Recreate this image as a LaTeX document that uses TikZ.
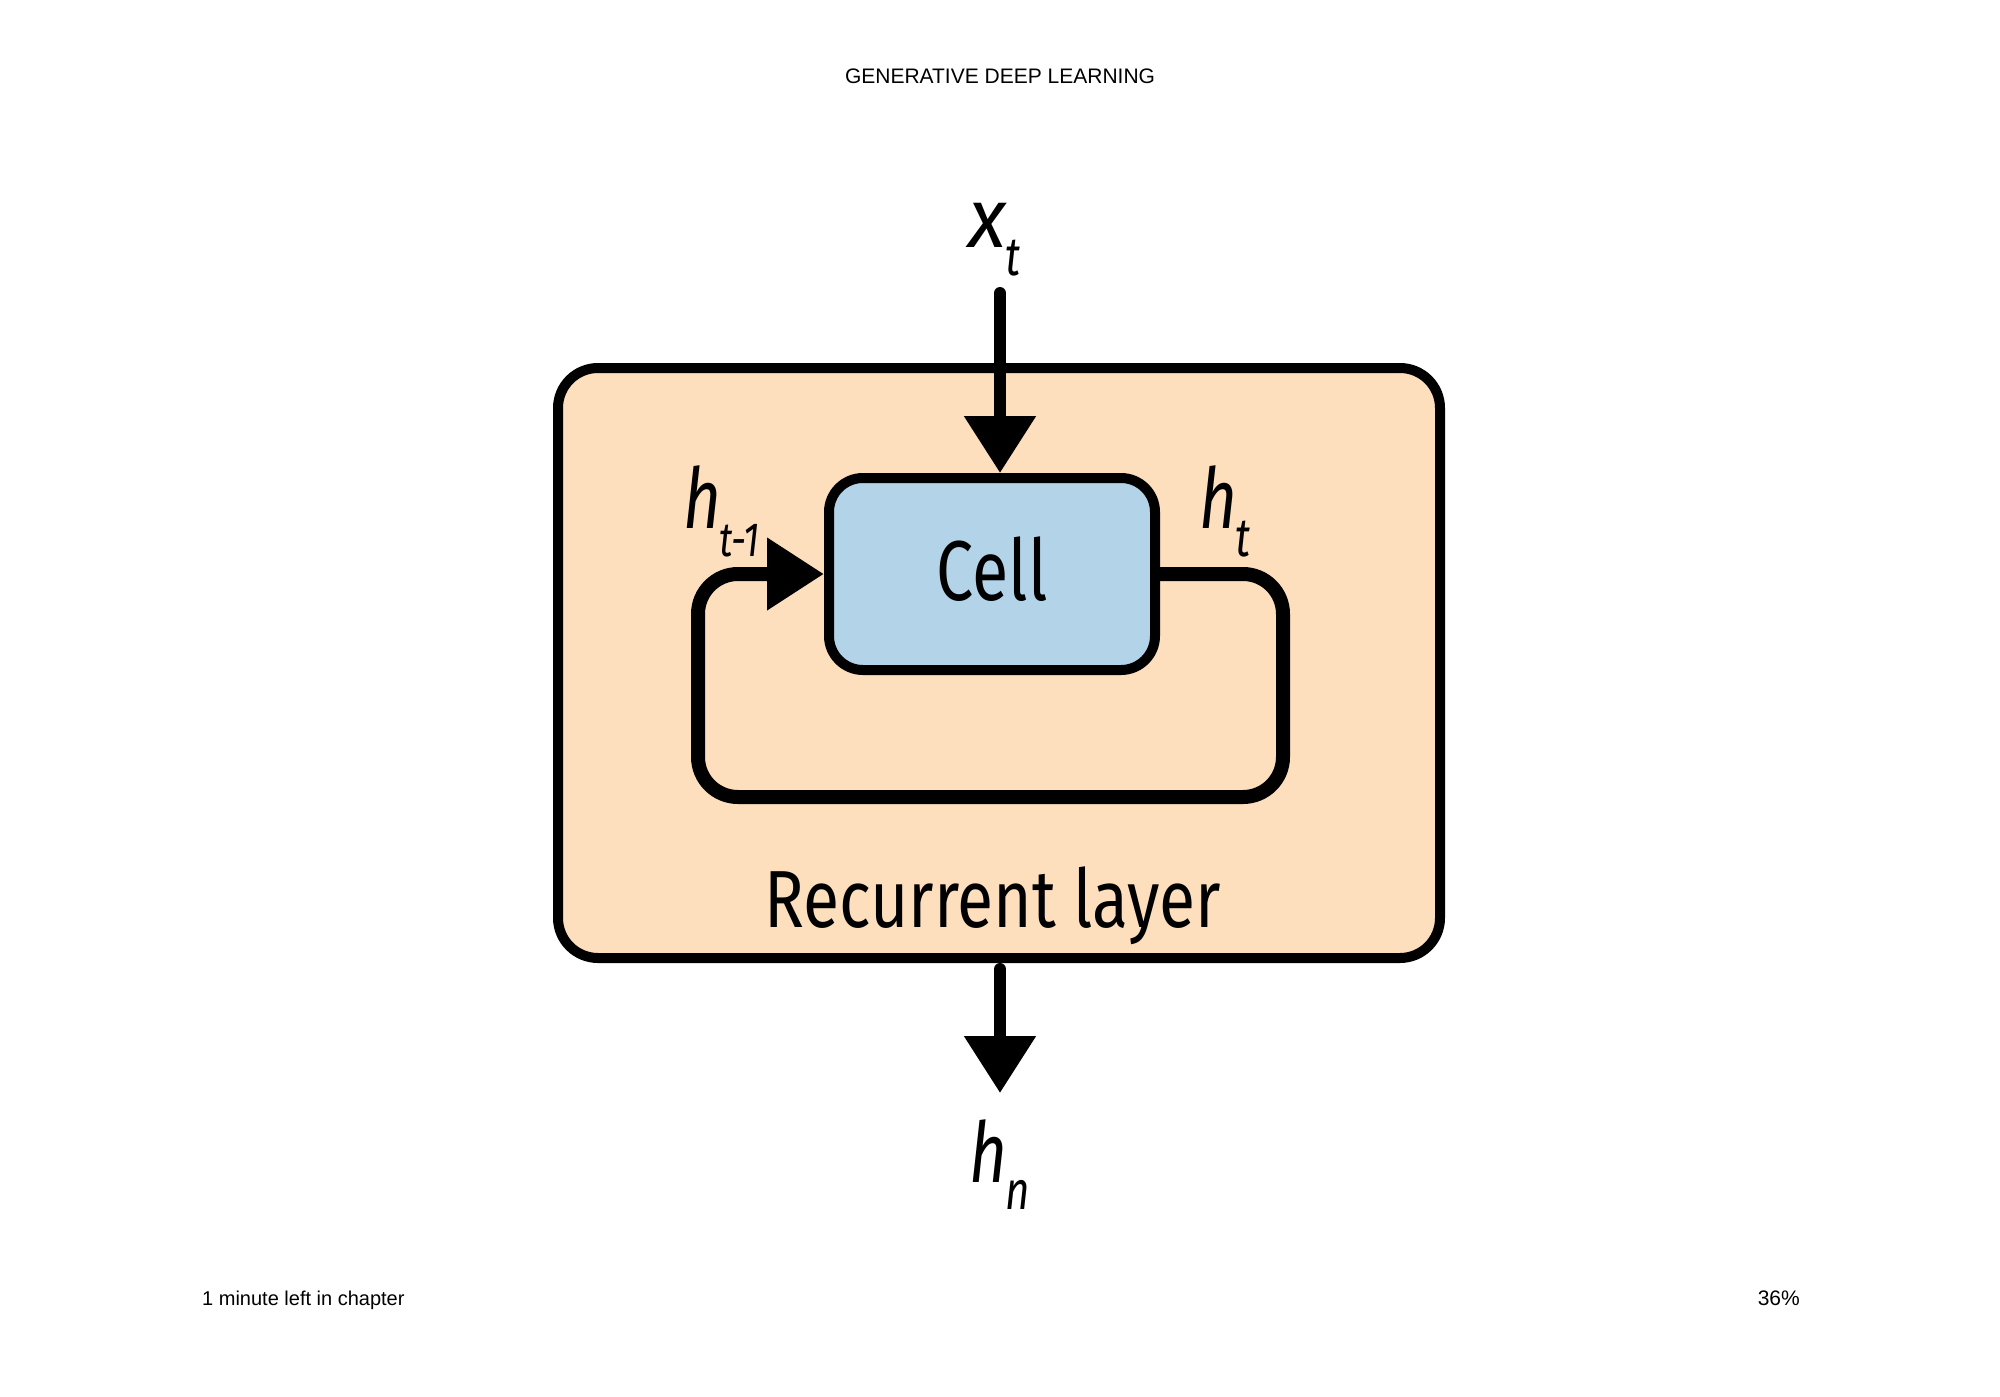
\documentclass[tikz,border=0pt]{standalone}
\usepackage{fontspec}
\usetikzlibrary{arrows.meta}
\newfontfamily\uifont{Liberation Sans}
\newfontfamily\diag[FakeStretch=0.78]{Fira Sans}
\newfontfamily\diagw[FakeStretch=0.815]{Fira Sans}
\definecolor{peach}{HTML}{FDDEBD}
\definecolor{cellblue}{HTML}{B2D3E8}
\tikzset{
  outerbox/.style={draw=black, line width=10pt, fill=peach, rounded corners=40pt,
    minimum width=882pt, minimum height=590pt, inner sep=0pt},
  cellbox/.style={draw=black, line width=10pt, fill=cellblue, rounded corners=34pt,
    minimum width=326pt, minimum height=192pt, inner sep=0pt},
  arr/.style={line width=12pt, line cap=round, -{Triangle[length=57pt, width=69pt]}},
  looparr/.style={line width=14pt, rounded corners=40pt, -{Triangle[length=57pt, width=69pt]}},
  lbl/.style={inner sep=0pt, font=\diag\itshape\fontsize{84}{84}\selectfont},
  ui/.style={inner sep=0pt, font=\uifont\fontsize{21}{21}\selectfont},
}
\newcommand{\subs}[2]{{\fontsize{#1}{#1}\selectfont #2}}
\begin{document}
\begin{tikzpicture}[x=1pt, y=-1pt]
\useasboundingbox (0,0) rectangle (2000,1397);
\fill[white] (0,0) rectangle (2000,1397);
% page texts
\node[ui, anchor=base] (head) at (1000,83) {GENERATIVE DEEP LEARNING};
\node[ui, anchor=base west, font=\uifont\fontsize{20}{20}\selectfont] (left) at (202,1305) {1 minute left in chapter};
\node[ui, anchor=base east] (pct) at (1800,1305) {36\%};
% boxes
\node[outerbox] (outer) at (999,663) {};
\node[cellbox] (cell) at (992,574) {};
\node[inner sep=0pt, anchor=base, font=\diag\fontsize{85}{85}\selectfont] (celltext) at (992,600) {Cell};
\node[inner sep=0pt, anchor=base, font=\diagw\fontsize{81}{81}\selectfont] (rl) at (993,927) {Recurrent layer};
% labels
\node[lbl, anchor=base west] (xt) at (968,247) {\scalebox{1.2}[1]{x}\kern0pt\raisebox{-28pt}{\subs{54}{t}}};
\node[lbl, anchor=base west] (htm) at (683,528) {h\kern-2pt\raisebox{-28pt}{\subs{48}{t-1}}};
\node[lbl, anchor=base west] (ht) at (1199,528) {h\kern-2pt\raisebox{-28pt}{\subs{54}{t}}};
\node[lbl, anchor=base west] (hn) at (969,1182) {h\kern-2pt\raisebox{-27pt}{\subs{54}{n}}};
% connectors
\coordinate (xin) at (1000,293);
\coordinate (hout) at (1000,1093);
\draw[arr] (xin) -- (xin |- cell.north);
\draw[arr] ([yshift=-6pt]xin |- outer.south) -- (hout);
\coordinate (lr) at (1283,797);
\coordinate (ll) at (698,797);
\draw[looparr] (cell.east) -- (cell.east -| lr) -- (lr) -- (ll) -- (ll |- cell.west) -- (cell.west);
\end{tikzpicture}
\end{document}
